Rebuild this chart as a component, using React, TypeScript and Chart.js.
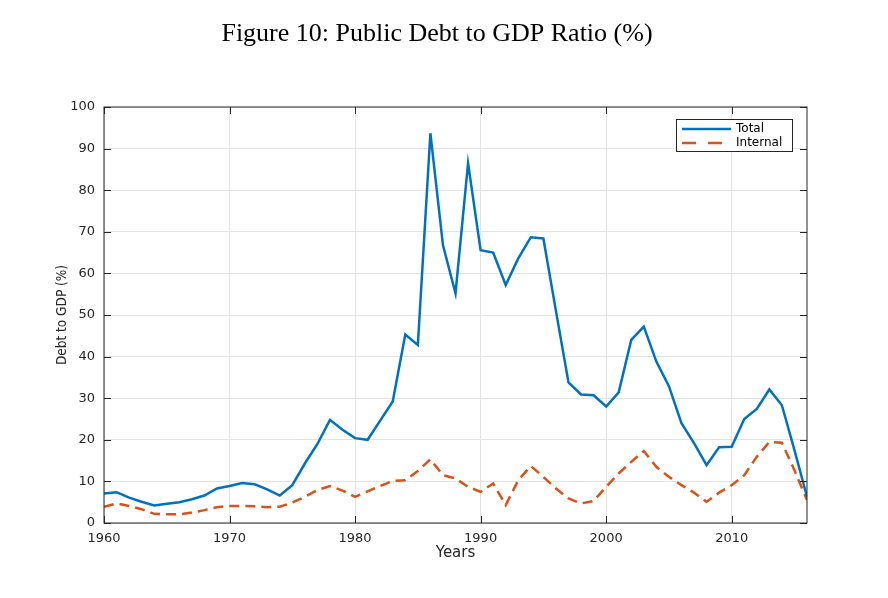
import { useEffect, useRef } from "react"
import { Chart, registerables } from "chart.js"

Chart.register(...registerables)

const TITLE = "Figure 10: Public Debt to GDP Ratio (%)"

const years = [
  1960, 1961, 1962, 1963, 1964, 1965, 1966, 1967, 1968, 1969,
  1970, 1971, 1972, 1973, 1974, 1975, 1976, 1977, 1978, 1979,
  1980, 1981, 1982, 1983, 1984, 1985, 1986, 1987, 1988, 1989,
  1990, 1991, 1992, 1993, 1994, 1995, 1996, 1997, 1998, 1999,
  2000, 2001, 2002, 2003, 2004, 2005, 2006, 2007, 2008, 2009,
  2010, 2011, 2012, 2013, 2014, 2015, 2016,
]

const totalDebt = [
  7.1, 7.4, 6.1, 5.1, 4.2, 4.6, 5.0, 5.7, 6.6, 8.3,
  8.9, 9.6, 9.3, 8.1, 6.6, 9.1, 14.3, 19.0, 24.8, 22.4,
  20.4, 20.0, 24.6, 29.2, 45.3, 42.8, 93.7, 66.8, 55.2, 86.5,
  65.6, 65.0, 57.2, 63.6, 68.7, 68.4, 51.0, 33.8, 30.9, 30.7,
  28.0, 31.4, 44.0, 47.2, 38.8, 32.9, 24.0, 19.2, 13.9, 18.2,
  18.3, 25.0, 27.4, 32.1, 28.3, 17.5, 6.3,
]

const internalDebt = [
  3.9, 4.7, 4.1, 3.3, 2.2, 2.1, 2.1, 2.5, 3.1, 3.8,
  4.1, 4.1, 4.0, 3.8, 3.9, 4.9, 6.3, 7.9, 8.9, 7.8,
  6.3, 7.6, 8.9, 10.1, 10.3, 12.5, 15.3, 11.5, 10.7, 8.7,
  7.5, 9.5, 4.3, 10.3, 13.7, 11.1, 8.3, 5.9, 4.7, 5.3,
  8.7, 11.9, 14.7, 17.3, 13.5, 11.1, 9.1, 7.3, 5.1, 7.3,
  9.1, 11.5, 15.9, 19.5, 19.3, 12.7, 5.5,
]

const BLUE = "#0072BD"
const ORANGE = "#D95319"
const AXIS = "#262626"
const TICK_FONT = { family: "'DejaVu Sans', sans-serif", size: 13 }

// box, inward ticks, legend and figure title in the MATLAB look
const matlabPlugin = {
  id: "matlabBox",
  afterDraw(chart: Chart) {
    const { ctx, chartArea, scales } = chart
    const { left, right, top, bottom } = chartArea
    ctx.save()
    ctx.strokeStyle = AXIS
    ctx.lineWidth = 1
    ctx.strokeRect(left, top, right - left, bottom - top)

    ctx.beginPath()
    scales.y.ticks.forEach((t) => {
      const py = Math.round(scales.y.getPixelForValue(t.value)) + 0.5
      ctx.moveTo(left, py)
      ctx.lineTo(left + 7, py)
      ctx.moveTo(right, py)
      ctx.lineTo(right - 7, py)
    })
    scales.x.ticks.forEach((t) => {
      const px = Math.round(scales.x.getPixelForValue(t.value)) + 0.5
      ctx.moveTo(px, bottom)
      ctx.lineTo(px, bottom - 7)
      ctx.moveTo(px, top)
      ctx.lineTo(px, top + 7)
    })
    ctx.stroke()

    // legend
    const lx = 676
    const ly = 119.5
    ctx.fillStyle = "#ffffff"
    ctx.fillRect(lx, ly, 116, 32)
    ctx.strokeStyle = AXIS
    ctx.strokeRect(lx + 0.5, ly, 116, 32)

    ctx.lineWidth = 2.5
    ctx.strokeStyle = BLUE
    ctx.beginPath()
    ctx.moveTo(682, 129)
    ctx.lineTo(731, 129)
    ctx.stroke()

    ctx.strokeStyle = ORANGE
    ctx.setLineDash([14, 12])
    ctx.beginPath()
    ctx.moveTo(682, 143)
    ctx.lineTo(731, 143)
    ctx.stroke()
    ctx.setLineDash([])

    ctx.fillStyle = "#000000"
    ctx.font = "12px 'DejaVu Sans', sans-serif"
    ctx.textAlign = "left"
    ctx.textBaseline = "middle"
    ctx.fillText("Total", 736, 129)
    ctx.fillText("Internal", 736, 143)

    // title
    ctx.font = "26px 'Liberation Serif', serif"
    ctx.textAlign = "center"
    ctx.textBaseline = "alphabetic"
    ctx.fillText(TITLE, 437, 41)
    ctx.restore()
  },
}

export default function App() {
  const chartRef = useRef<HTMLCanvasElement>(null)
  const chartInstance = useRef<Chart | null>(null)

  useEffect(() => {
    if (!chartRef.current) return
    const ctx = chartRef.current.getContext("2d")
    if (!ctx) return

    chartInstance.current = new Chart(ctx, {
      type: "line",
      data: {
        datasets: [
          {
            label: "Total",
            data: years.map((y, i) => ({ x: y, y: totalDebt[i] })),
            borderColor: BLUE,
            backgroundColor: BLUE,
            borderWidth: 2.5,
            pointRadius: 0,
            tension: 0,
          },
          {
            label: "Internal",
            data: years.map((y, i) => ({ x: y, y: internalDebt[i] })),
            borderColor: ORANGE,
            backgroundColor: ORANGE,
            borderWidth: 2.5,
            borderDash: [10, 6],
            pointRadius: 0,
            tension: 0,
          },
        ],
      },
      options: {
        responsive: true,
        maintainAspectRatio: false,
        animation: false,
        layout: { padding: { left: 0, right: 81, top: 107, bottom: 0 } },
        scales: {
          x: {
            type: "linear",
            min: 1960,
            max: 2016,
            afterFit: (scale) => {
              scale.height = 75
            },
            ticks: {
              stepSize: 10,
              includeBounds: false,
              padding: 8,
              color: AXIS,
              font: TICK_FONT,
              maxRotation: 0,
              callback: (v) => String(v),
            },
            grid: { color: "#e3e3e3", drawTicks: false },
            border: { display: false },
            title: {
              display: true,
              text: "Years",
              color: AXIS,
              font: { family: "'DejaVu Sans', sans-serif", size: 15 },
              padding: { top: 0, bottom: 36 },
            },
          },
          y: {
            min: 0,
            max: 100,
            afterFit: (scale) => {
              scale.width = 104
            },
            ticks: {
              stepSize: 10,
              padding: 9,
              color: AXIS,
              font: TICK_FONT,
            },
            grid: { color: "#e3e3e3", drawTicks: false },
            border: { display: false },
            title: {
              display: true,
              text: "Debt to GDP (%)",
              color: AXIS,
              font: { family: "'DejaVu Sans Condensed', 'DejaVu Sans', sans-serif", size: 13.5 },
              padding: { top: 54, bottom: 0 },
            },
          },
        },
        plugins: {
          legend: { display: false },
          tooltip: { enabled: false },
        },
      },
      plugins: [matlabPlugin],
    })

    return () => {
      if (chartInstance.current) {
        chartInstance.current.destroy()
        chartInstance.current = null
      }
    }
  }, [])

  return (
    <div style={{ position: "absolute", left: 0, top: 0, width: 888, height: 598, background: "#ffffff" }}>
      <canvas ref={chartRef} />
    </div>
  )
}
